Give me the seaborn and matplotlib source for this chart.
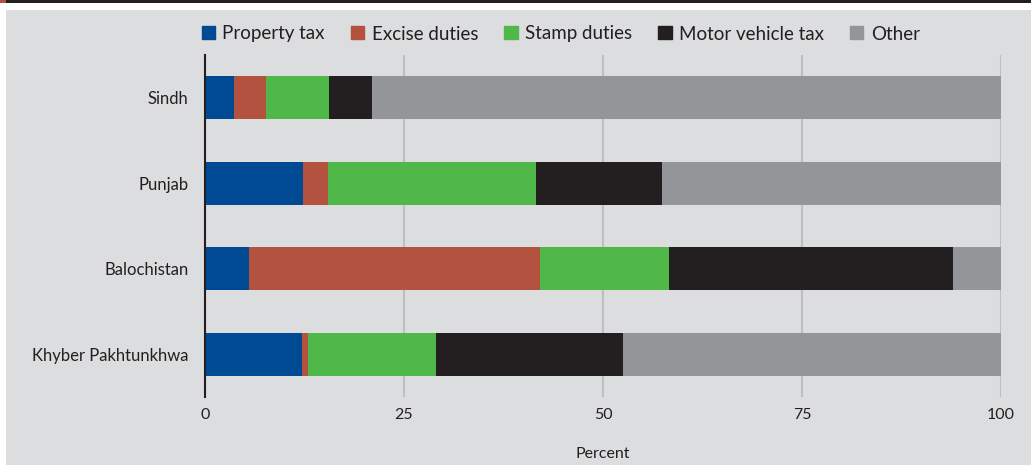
import matplotlib
matplotlib.use("Agg")
import matplotlib.pyplot as plt
import matplotlib.patches as mpatches
import seaborn as sns
import pandas as pd

# data (percent of provincial own tax revenue)
provinces = ["Sindh", "Punjab", "Balochistan", "Khyber Pakhtunkhwa"]
categories = ["Property tax", "Excise duties", "Stamp duties", "Motor vehicle tax", "Other"]
property_tax = [3.6, 12.3, 5.5, 12.2]
excise_duties = [4.1, 3.2, 36.6, 0.7]
stamp_duties = [7.9, 26.1, 16.2, 16.1]
motor_vehicle_tax = [5.4, 15.8, 35.7, 23.5]
other = [79.0, 42.6, 6.0, 47.5]

colors = ["#004a93", "#b3533f", "#50b848", "#231f20", "#939598"]
bg = "#dcddde"
text_c = "#231f20"

sns.set_theme(style="white")
plt.rcParams["font.family"] = ["Lato", "DejaVu Sans"]

df = pd.DataFrame({
    "Province": provinces,
    "Property tax": property_tax,
    "Excise duties": excise_duties,
    "Stamp duties": stamp_duties,
    "Motor vehicle tax": motor_vehicle_tax,
    "Other": other,
})
cum = df[categories].cumsum(axis=1)
cum["Province"] = df["Province"]

fig = plt.figure(figsize=(10.31, 4.65), dpi=100)
fig.patch.set_facecolor("white")
# panel and top rule
fig.add_artist(mpatches.Rectangle((6 / 1031, 0), 1, 1 - 10 / 465, transform=fig.transFigure,
                                  facecolor=bg, edgecolor="none", zorder=0))
fig.add_artist(mpatches.Rectangle((0, 1 - 3 / 465), 1, 3 / 465, transform=fig.transFigure,
                                  facecolor=text_c, edgecolor="none", zorder=0))
fig.add_artist(mpatches.Rectangle((0, 1 - 3 / 465), 6 / 1031, 3 / 465, transform=fig.transFigure,
                                  facecolor="#b3533f", edgecolor="none", zorder=1))

ax = fig.add_axes([205 / 1031, 1 - 397 / 465, 796 / 1031, 342 / 465])
ax.set_facecolor("none")

# stacked bars: draw cumulative totals from the outermost segment inward
for cat, col in reversed(list(zip(categories, colors))):
    sns.barplot(data=cum, x=cat, y="Province", order=provinces, color=col,
                width=0.5, saturation=1, linewidth=0, ax=ax, zorder=3)

ax.set_xlim(0, 100)
ax.set_ylim(3.5, -0.5)
ax.set_xticks([0, 25, 50, 75, 100])
ax.xaxis.grid(True, color="#bcbec0", linewidth=1.5, zorder=0)
ax.set_axisbelow(True)
for s in ["top", "right", "bottom"]:
    ax.spines[s].set_visible(False)
ax.spines["left"].set_color(text_c)
ax.spines["left"].set_linewidth(1.5)
ax.spines["left"].set_zorder(4)
ax.tick_params(axis="both", length=0, labelcolor=text_c)
ax.tick_params(axis="x", pad=8, labelsize=11.5)
ax.tick_params(axis="y", pad=12, labelsize=12)
ax.set_ylabel("")
ax.set_xlabel("Percent", fontsize=11.5, color=text_c, labelpad=18)

handles = [mpatches.Patch(color=c, label=l) for c, l in zip(colors, categories)]
fig.legend(handles=handles, loc="center", bbox_to_anchor=(0.544, 1 - 34 / 465), ncol=5,
           frameon=False, fontsize=13.5, handlelength=0.7, handleheight=0.7,
           handletextpad=0.4, columnspacing=1.4, labelcolor=text_c)

fig.savefig("out.png", dpi=100, facecolor=fig.get_facecolor())
